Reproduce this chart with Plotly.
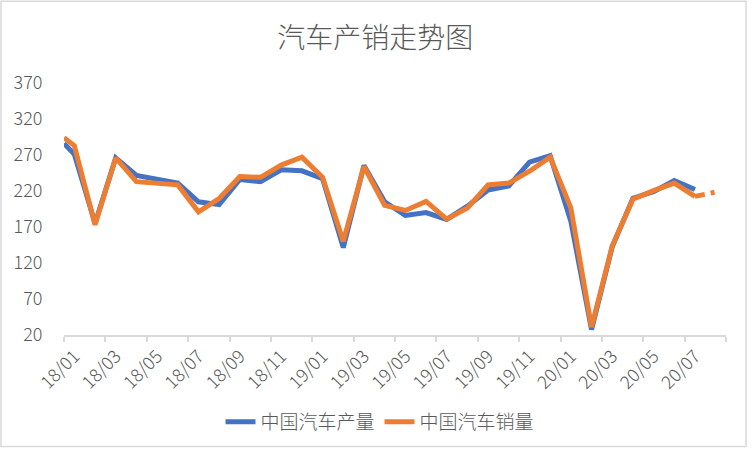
import plotly.graph_objects as go

# ---- data (万辆) ----
months = ["18/01","18/02","18/03","18/04","18/05","18/06","18/07","18/08","18/09","18/10","18/11","18/12",
          "19/01","19/02","19/03","19/04","19/05","19/06","19/07","19/08","19/09","19/10","19/11","19/12",
          "20/01","20/02","20/03","20/04","20/05","20/06","20/07","20/08"]
production = [271, 175, 266, 241.5, 237, 231, 205, 201, 236, 233, 249.5, 248,
              237, 141.5, 255.5, 205, 186, 190, 180.5, 199, 221.5, 227, 260, 269,
              178, 27.5, 142.5, 210, 219, 234.5, 222]
sales = [283, 173, 266, 233, 230.5, 228.5, 191, 209.5, 240, 239, 256, 267,
         239, 150, 254, 200, 193, 205.5, 181, 196.5, 228.5, 231, 247.5, 267,
         196.5, 31, 143.5, 208.5, 220.5, 231, 212.5, 218.6]
# values where each line meets the left edge of the plot area
edge_production = 286
edge_sales = 294

y_ticks = [20, 70, 120, 170, 220, 270, 320, 370]
tick_labels = months[::2]

BLUE = "#4472C4"
ORANGE = "#ED7D31"
GRAY = "#595959"
AXIS = "#D9D9D9"
FONT = "Noto Sans CJK SC"

W, H = 752, 452
ML, MR, MT, MB = 64, 26, 83, 116

x_range = [-0.5, len(months) - 0.5]
idx = list(range(len(months)))
LW = 5

fig = go.Figure()
fig.add_trace(go.Scatter(
    x=[x_range[0]] + idx[:len(production)], y=[edge_production] + production,
    mode="lines", name="中国汽车产量",
    line=dict(color=BLUE, width=LW), hoverinfo="skip"))
fig.add_trace(go.Scatter(
    x=[x_range[0]] + idx[:len(sales) - 1], y=[edge_sales] + sales[:-1],
    mode="lines", name="中国汽车销量",
    line=dict(color=ORANGE, width=LW), hoverinfo="skip"))
fig.add_trace(go.Scatter(
    x=idx[len(sales) - 2:len(sales)], y=sales[-2:],
    mode="lines", showlegend=False,
    line=dict(color=ORANGE, width=LW, dash="10px,6px,4px,20px"), hoverinfo="skip"))

pw = W - ML - MR
ph = H - MT - MB
def px_x(p):
    return (p - ML) / pw
def px_y(p):
    return (H - MB - p) / ph

fig.add_shape(type="rect", xref="paper", yref="paper",
              x0=px_x(1), x1=px_x(746), y0=px_y(448), y1=px_y(1),
              line=dict(color=AXIS, width=1.5), fillcolor="rgba(0,0,0,0)", layer="below")

fig.update_layout(
    width=W, height=H,
    margin=dict(l=ML, r=MR, t=MT, b=MB),
    paper_bgcolor="white", plot_bgcolor="white",
    font=dict(family=FONT, color=GRAY, size=18),
    title=dict(text="汽车产销走势图", x=0.499, xanchor="center", y=1 - 38 / H, yanchor="middle",
               font=dict(family=FONT, size=28, color=GRAY, weight=300)),
    showlegend=True,
    legend=dict(orientation="h", x=(380 - ML) / pw, xanchor="center",
                y=px_y(422), yanchor="middle",
                font=dict(family=FONT, size=19, color=GRAY, weight=300),
                bgcolor="rgba(0,0,0,0)"),
    xaxis=dict(range=x_range, tickmode="array", tickvals=idx[::2], ticktext=tick_labels,
               tickangle=-45, ticks="", showgrid=False, zeroline=False,
               showline=True, linecolor=AXIS, linewidth=1.5,
               tickfont=dict(family=FONT, size=18, color=GRAY, weight=300),
               ticklabelstandoff=2,
               minor=dict(tickmode="linear", tick0=x_range[0], dtick=2, ticks="outside",
                          ticklen=5, tickcolor=AXIS, tickwidth=1.5, showgrid=False)),
    yaxis=dict(range=[y_ticks[0], y_ticks[-1]], tickmode="array", tickvals=y_ticks,
               ticks="outside", ticklen=17, tickcolor="rgba(0,0,0,0)",
               showgrid=False, zeroline=False, showline=False,
               tickfont=dict(family=FONT, size=18, color=GRAY, weight=300)),
)

fig.write_html("out.html")
